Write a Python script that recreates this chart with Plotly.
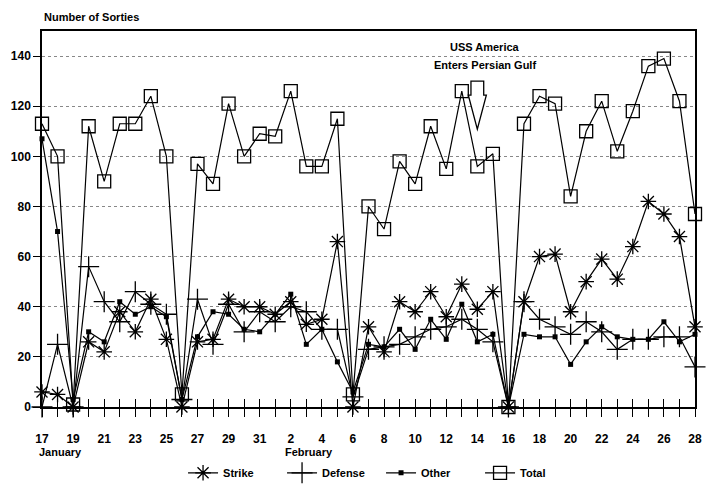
import plotly.graph_objects as go

# Days: Jan 17 .. Jan 31, Feb 1 .. Feb 28 (index 0..42)
day_labels = ["17", "", "19", "", "21", "", "23", "", "25", "", "27", "", "29", "", "31",
              "", "2", "", "4", "", "6", "", "8", "", "10", "", "12", "", "14", "",
              "16", "", "18", "", "20", "", "22", "", "24", "", "26", "", "28"]
days = list(range(len(day_labels)))

strike = [6, 5, 0, 26, 22, 38, 30, 43, 27, 0, 26, 27, 43, 40, 40,
          37, 42, 33, 35, 66, 0, 32, 22, 42, 38, 46, 36, 49, 39, 46, 0, 42, 60, 61,
          38, 50, 59, 51, 64, 82, 77, 68, 32]
defense = [0, 25, 0, 56, 42, 34, 46, 41, 37, 3, 43, 25, 41, 30, 38,
           34, 40, 38, 31, 31, 4, 23, 24, 25, 28, 31, 32, 35, 31, 26, 0, 42, 35, 32,
           29, 34, 30, 23, 27, 27, 28, 28, 16]
other = [107, 70, 3, 30, 26, 42, 37, 40, 36, 3, 28, 38, 37, 31, 30,
         37, 45, 25, 31, 18, 6, 25, 24, 31, 23, 35, 27, 41, 26, 29, 0, 29, 28, 28,
         17, 26, 32, 28, 27, 27, 34, 26, 29]
total = [113, 100, 1, 112, 90, 113, 113, 124, 100, 5, 97, 89, 121, 100, 109,
         108, 126, 96, 96, 115, 5, 80, 71, 98, 89, 112, 95, 126, 96, 101, 0, 113, 124, 121,
         84, 110, 122, 102, 118, 136, 139, 122, 77]
y_ticks = [0, 20, 40, 60, 80, 100, 120, 140]
event_day = 28  # Feb 14

FONT = "Liberation Sans, Arial, sans-serif"
BOLD = dict(family=FONT, size=12, color="black", weight="bold")

fig = go.Figure()

series = [
    ("Strike", strike, dict(symbol="asterisk-open", size=13, line=dict(color="black", width=1.3))),
    ("Defense", defense, dict(symbol="cross-thin-open", size=15, line=dict(color="black", width=1.3))),
    ("Other", other, dict(symbol="square", size=5, color="black")),
    ("Total", total, dict(symbol="square-open", size=13, color="black", line=dict(color="black", width=1.3))),
]
for name, vals, mk in series:
    if "color" not in mk:
        mk["color"] = "black"
    fig.add_trace(go.Scatter(
        x=days, y=vals, name=name, mode="lines+markers",
        line=dict(color="black", width=1.2), marker=mk, cliponaxis=False,
    ))

# invisible trace for overlay axis (crossing ticks)
fig.add_trace(go.Scatter(x=[0, 42], y=[0, 0], xaxis="x2", mode="lines",
                         line=dict(width=0), showlegend=False, hoverinfo="skip"))

fig.update_layout(
    width=712, height=486,
    paper_bgcolor="white", plot_bgcolor="white",
    margin=dict(l=34, r=25, t=23, b=87, autoexpand=False),
    font=BOLD,
    showlegend=True,
    legend=dict(orientation="h", x=0.216, xanchor="left", y=-0.175, yanchor="middle",
                font=dict(family=FONT, size=11, color="black", weight="bold"),
                itemwidth=30, entrywidth=54, entrywidthmode="pixels",
                tracegroupgap=0, bgcolor="rgba(0,0,0,0)"),
    xaxis=dict(range=[0, 42], tickmode="array", tickvals=days, ticktext=day_labels,
               ticks="outside", ticklen=8, tickwidth=1.2, tickcolor="black",
               showline=True, linecolor="black", linewidth=1.5, mirror=True,
               showgrid=False, zeroline=False, ticklabelstandoff=12, automargin=False,
               tickfont=dict(family=FONT, size=12, color="black", weight="bold")),
    xaxis2=dict(range=[0, 42], overlaying="x", anchor="y", side="bottom",
                tickmode="array", tickvals=days, ticks="inside", ticklen=8, tickwidth=1.2,
                tickcolor="black", showticklabels=False, showgrid=False, zeroline=False,
                showline=False, automargin=False),
    yaxis=dict(range=[0, 150], tickmode="array", tickvals=y_ticks,
               ticks="outside", ticklen=7, tickwidth=1.2, tickcolor="black",
               showline=True, linecolor="black", linewidth=1.5, mirror=True,
               showgrid=True, gridcolor="#888888", griddash="dot", gridwidth=1,
               zeroline=False, automargin=False,
               tickfont=dict(family=FONT, size=12, color="black", weight="bold")),
)

annots = [
    dict(text="Number of Sorties", xref="paper", yref="paper", x=0, y=1.037,
         xanchor="left", yanchor="middle", showarrow=False,
         font=dict(family=FONT, size=11, color="black", weight="bold")),
    dict(text="January", xref="x", yref="paper", x=1.2, y=-0.12, xanchor="center",
         yanchor="middle", showarrow=False,
         font=dict(family=FONT, size=11, color="black", weight="bold")),
    dict(text="February", xref="x", yref="paper", x=17.2, y=-0.12, xanchor="center",
         yanchor="middle", showarrow=False,
         font=dict(family=FONT, size=11, color="black", weight="bold")),
    dict(text="USS America", xref="x", yref="y", x=event_day + 0.5, y=143.6,
         xanchor="center", yanchor="middle", showarrow=False,
         font=dict(family=FONT, size=11, color="black", weight="bold")),
    dict(text="Enters Persian Gulf", xref="x", yref="y", x=event_day + 0.5, y=136.4,
         xanchor="center", yanchor="middle", showarrow=False,
         font=dict(family=FONT, size=11, color="black", weight="bold")),
]
fig.update_layout(annotations=annots)

# hollow block arrow pointing at the event day
sw, hw = 0.41, 0.58
top, neck, tip = 130, 124.4, 110.8
c = event_day
path = (f"M {c-sw},{top} L {c+sw},{top} L {c+sw},{neck} L {c+hw},{neck} "
        f"L {c},{tip} L {c-hw},{neck} L {c-sw},{neck} Z")
fig.add_shape(type="path", path=path, xref="x", yref="y",
              line=dict(color="black", width=1.3), fillcolor="white")

fig.write_html("out.html")
